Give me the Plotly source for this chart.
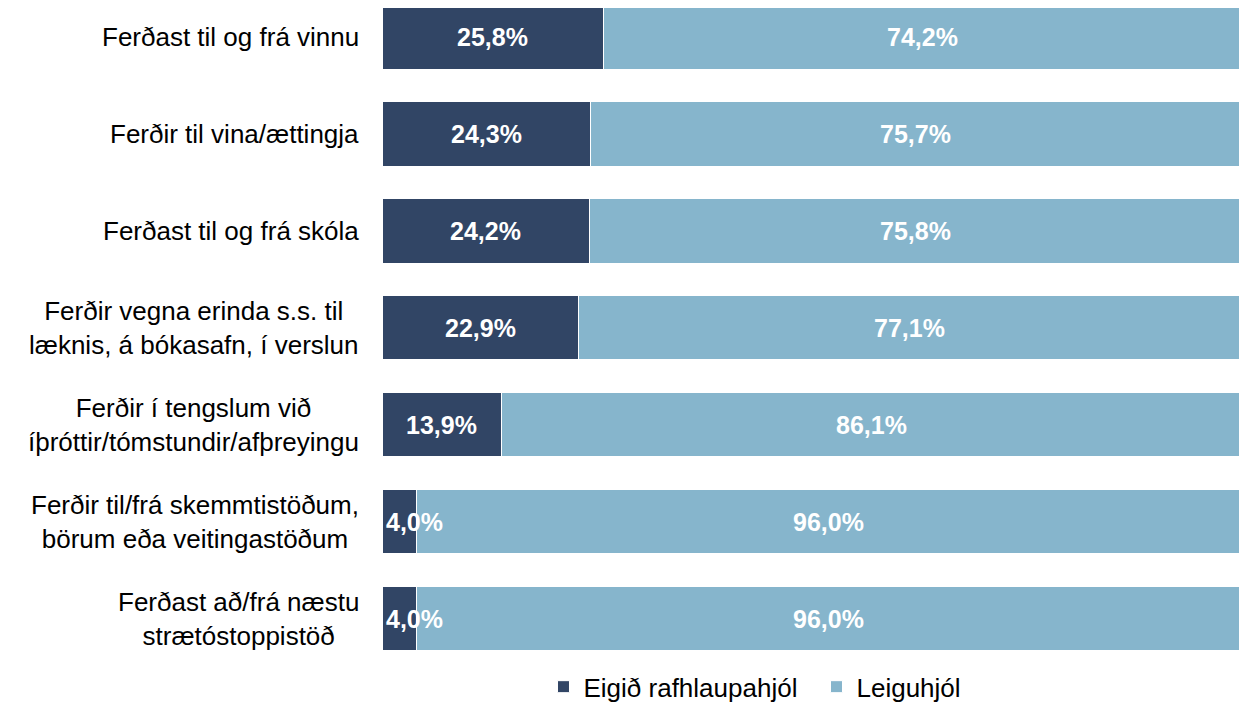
import plotly.graph_objects as go

categories = [
    "Ferðast til og frá vinnu",
    "Ferðir til vina/ættingja",
    "Ferðast til og frá skóla",
    "Ferðir vegna erinda s.s. til<br>læknis, á bókasafn, í verslun",
    "Ferðir í tengslum við<br>íþróttir/tómstundir/afþreyingu",
    "Ferðir til/frá skemmtistöðum,<br>börum eða veitingastöðum",
    "Ferðast að/frá næstu<br>strætóstoppistöð",
]
own = [25.8, 24.3, 24.2, 22.9, 13.9, 4.0, 4.0]
rental = [74.2, 75.7, 75.8, 77.1, 86.1, 96.0, 96.0]
series_names = ["Eigið rafhlaupahjól", "Leiguhjól"]
colors = ["#314565", "#86b5cc"]

FONT = "Liberation Sans, Arial, sans-serif"

def fmt(v):
    return f"{v:.1f}%".replace(".", ",")

fig = go.Figure()
for name, vals, col in zip(series_names, [own, rental], colors):
    fig.add_trace(go.Bar(
        y=categories, x=vals, name=name, orientation="h",
        marker=dict(color=col, line=dict(color="white", width=1)),
        hoverinfo="skip",
    ))

annotations = []
for cat in categories:
    annotations.append(dict(
        xref="paper", yref="y", x=0, y=cat, text=cat, showarrow=False,
        xanchor="right", yanchor="middle", align="center", xshift=-21,
        font=dict(family=FONT, size=26, color="#000000"),
    ))
for cat, a, b in zip(categories, own, rental):
    lab_font = dict(family=FONT, size=25, color="white", weight="bold")
    if a < 8:
        annotations.append(dict(x=0, y=cat, text=fmt(a), showarrow=False,
                                xanchor="left", xshift=2, font=lab_font))
    else:
        annotations.append(dict(x=a / 2, y=cat, text=fmt(a), showarrow=False,
                                xanchor="center", font=lab_font))
    annotations.append(dict(x=a + b / 2, y=cat, text=fmt(b), showarrow=False,
                            xanchor="center", font=lab_font))

fig.update_layout(
    width=1239, height=698,
    barmode="stack", bargap=0.34,
    margin=dict(l=374, r=6, t=0, b=46, autoexpand=False),
    plot_bgcolor="white", paper_bgcolor="white",
    font=dict(family=FONT, size=26, color="#000000"),
    xaxis=dict(range=[0, 100], showgrid=False, zeroline=False,
               showticklabels=False, ticks=""),
    yaxis=dict(type="category", range=[6.423, -0.299], showgrid=False,
               zeroline=False, showticklabels=False, ticks=""),
    legend=dict(orientation="h", x=0.188, xanchor="left", y=-0.005,
                yanchor="top", font=dict(family=FONT, size=26),
                traceorder="normal", itemwidth=30,
                entrywidth=228, entrywidthmode="pixels"),
    annotations=annotations,
    showlegend=True,
)

fig.write_html("out.html")
